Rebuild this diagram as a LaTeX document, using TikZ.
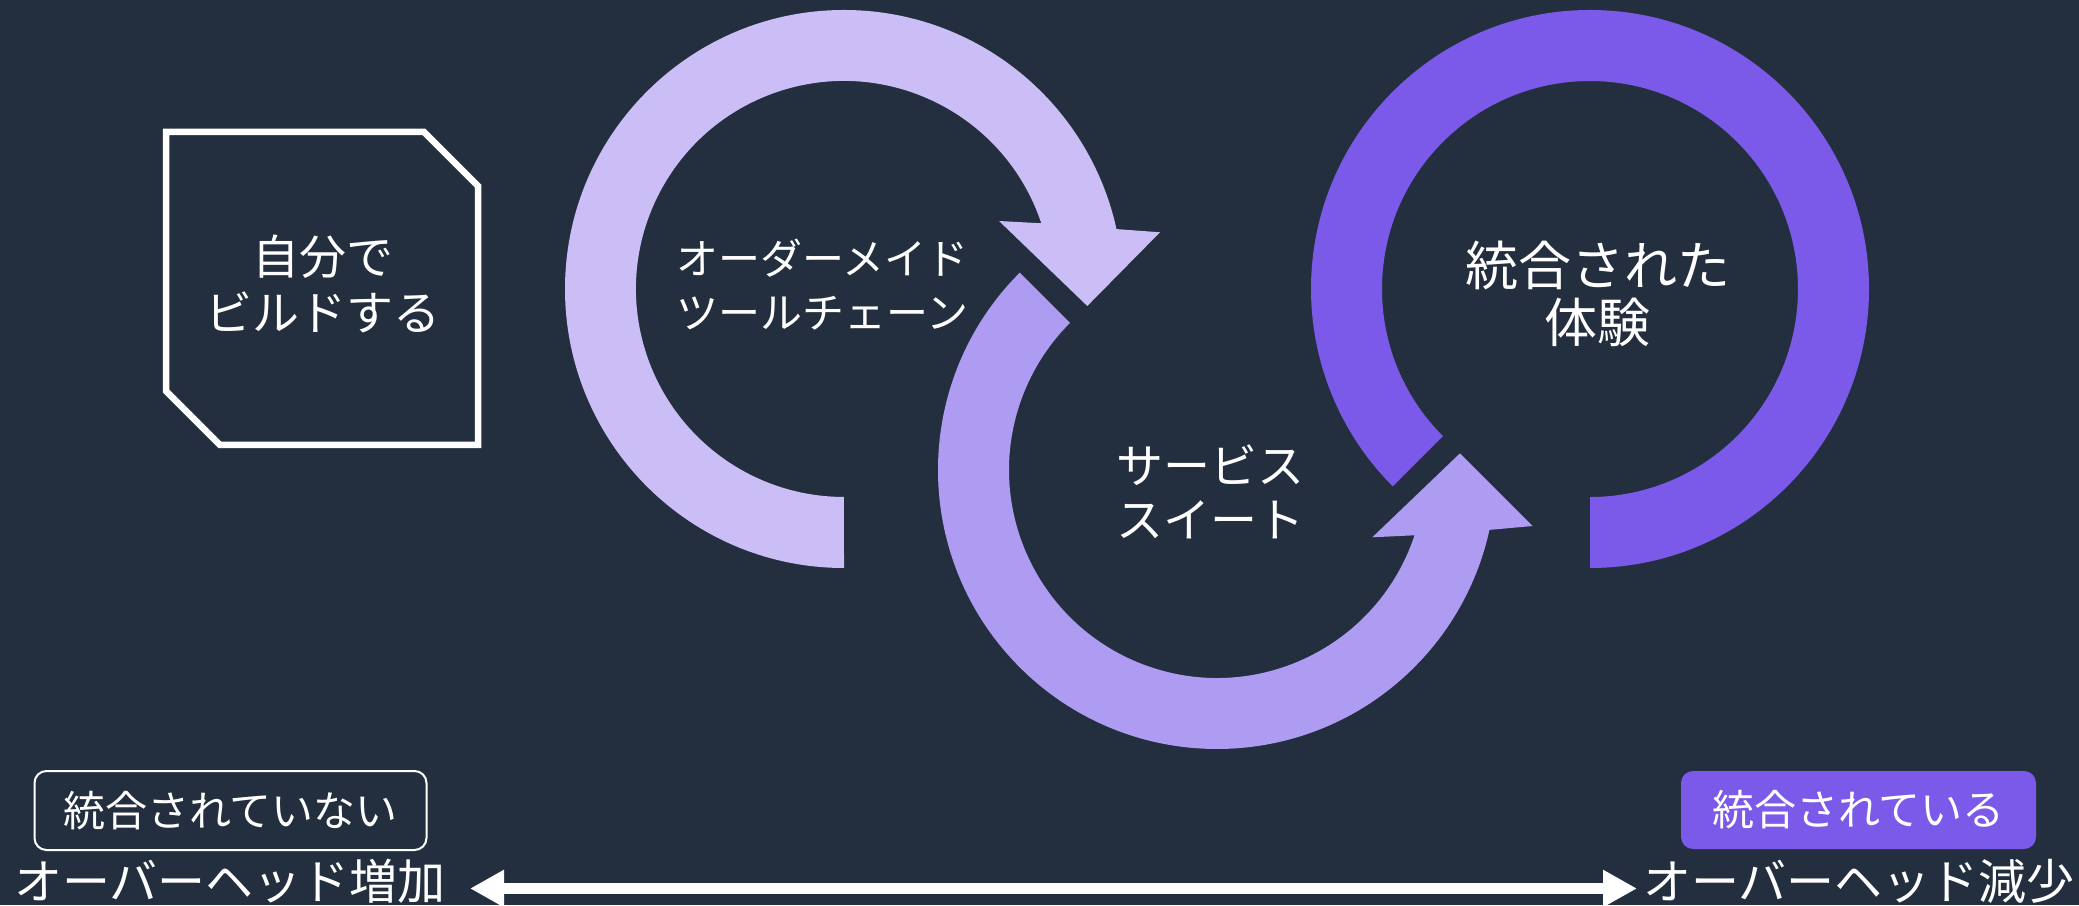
\documentclass[tikz,border=0pt]{standalone}
\usepackage{fontspec}
\newfontfamily\jp{Noto Sans CJK JP}
\usetikzlibrary{arrows.meta}
\definecolor{bg}{HTML}{232F3E}
\definecolor{lav}{HTML}{CBBEF7}
\definecolor{midp}{HTML}{AE9BF2}
\definecolor{deep}{HTML}{7B5AE9}
\begin{document}
\begin{tikzpicture}[x=1pt,y=1pt,
  lbl/.style={text=white, inner sep=0pt, outer sep=0pt},
  fs/.style n args={2}{font={\jp\fontsize{#1}{#2}\selectfont}},
  tagbox/.style={text=white, inner sep=0pt, rounded corners=12pt, font={\jp\fontsize{42}{50}\selectfont}},
  bigarrow/.style={white, line width=11.7pt, {Triangle[length=34pt,width=35pt]}-{Triangle[length=34pt,width=35pt]}}
]
\fill[bg] (0,0) rectangle (2079,905);
\useasboundingbox (0,0) rectangle (2079,905);

% ring 1 (light)
\fill[lav] (844,337) arc[start angle=270,end angle=12.4,radius=279]
  -- (1160,672.7) -- (1087.3,599) -- (999,684) -- (1041.3,681.7)
  arc[start angle=18.4,end angle=270,radius=208] -- cycle;
% ring 2 (medium)
\fill[midp] (1019.7,632.3) arc[start angle=135,end angle=347.6,radius=279]
  -- (1532.7,379) -- (1460,451.7) -- (1372.3,367.7) -- (1414.5,369.7)
  arc[start angle=341.7,end angle=135,radius=208] -- cycle;
% ring 3 (deep)
\fill[deep] (1590,337) arc[start angle=-90,end angle=225,radius=279]
  -- (1442.9,468.9) arc[start angle=225,end angle=-90,radius=208] -- cycle;

% octagon box
\draw[white, line width=6.5pt, line join=miter] (166,773) -- (424,773) -- (478,719) -- (478,460) -- (220,460) -- (166,514) -- cycle;

\node[lbl, fs={47}{56}, align=center] (build) at (323,621) {自分で\\ビルドする};
\node[lbl, fs={42}{54}, align=left] (custom) at (822.5,620) {オーダーメイド\\ツールチェーン};
\node[lbl, fs={47}{54}, align=left] (suite) at (1210,413) {サービス\\スイート};
\node[lbl, fs={53}{57}, align=center] (integ) at (1597.5,611) {統合された\\体験};

\node[tagbox, draw=white, line width=2pt, minimum width=392pt, minimum height=79pt] (notint) at (230.5,94.5) {統合されていない};
\node[tagbox, fill=deep, minimum width=355pt, minimum height=78pt] (isint) at (1858.5,95) {統合されている};

\node[lbl, fs={48}{56}] (ovL) at (230,23.5) {オーバーヘッド増加};
\node[lbl, fs={48}{56}] (ovR) at (1859,23.5) {オーバーヘッド減少};

\coordinate (aL) at (470,16.5);
\coordinate (aR) at (1637,16.5);
\draw[bigarrow] (aL) -- (aR);
\end{tikzpicture}
\end{document}
